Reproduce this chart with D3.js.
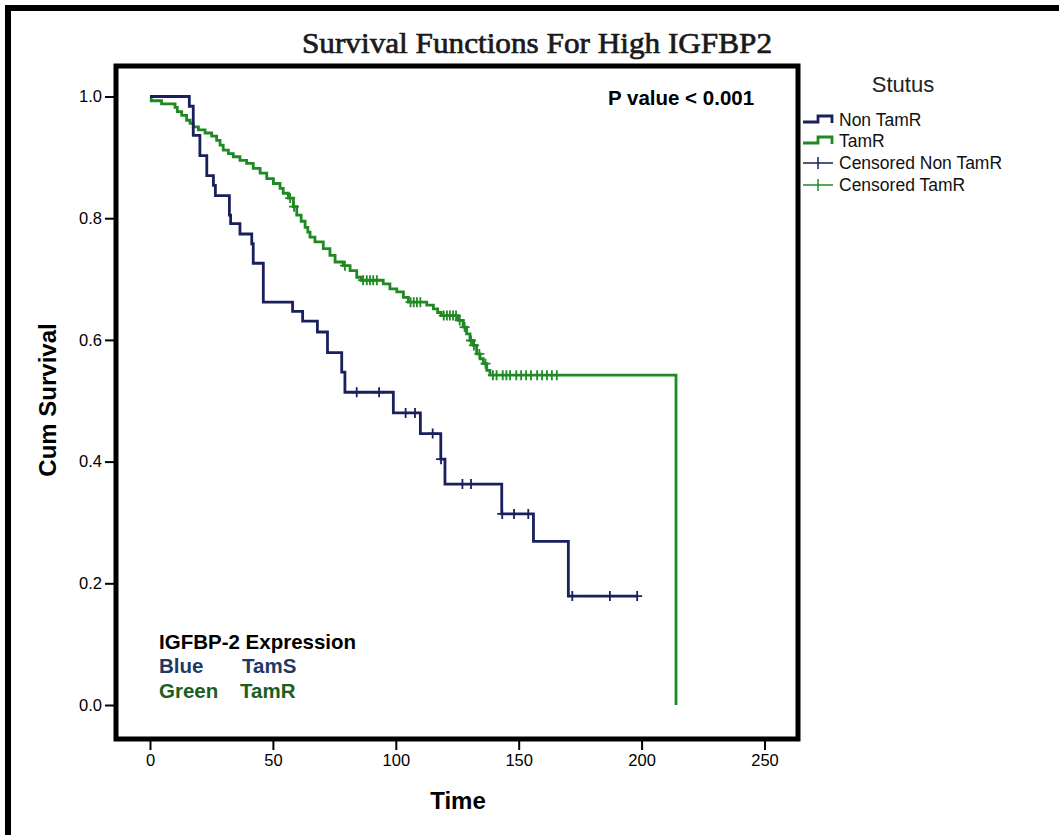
<!DOCTYPE html>
<html>
<head>
<meta charset="utf-8">
<script src="https://cdn.jsdelivr.net/npm/d3@7"></script>
<style>
  html, body { margin: 0; padding: 0; background: #fff; }
  svg { display: block; }
  text { font-family: "Liberation Sans", Arial, sans-serif; }
</style>
</head>
<body>
<svg id="chart" width="1059" height="835"></svg>
<script>
// Kaplan-Meier estimates: event times (months) and survival after each event
const blueTimes = [0, 16.0, 17.6, 20.3, 23.1, 25.8, 26.6, 32.3, 32.8, 36.6, 41.4, 42.0, 46.1, 58.0, 62.1, 68.1, 72.2, 78.0, 79.3, 99.0, 110.0, 118.3, 120.0, 143.1, 156.0, 170.2];
const blueSurv  = [1.0, 0.984, 0.936, 0.903, 0.870, 0.854, 0.837, 0.805, 0.791, 0.774, 0.758, 0.726, 0.662, 0.647, 0.631, 0.613, 0.579, 0.547, 0.514, 0.480, 0.446, 0.404, 0.363, 0.314, 0.269, 0.179];
const blueCensor = [84.1, 93.2, 104.0, 107.8, 115.0, 118.4, 127.1, 130.6, 143.3, 148.1, 153.9, 171.8, 187.1, 198.2];

const greenTimes = [0, 0.5, 4.7, 10.2, 11.1, 12.9, 14.9, 16.3, 17.6, 19.7, 22.4, 25.1, 27.1, 28.5, 29.8, 31.9, 33.9, 36.6, 39.3, 42.0, 44.8, 47.5, 50.2, 52.9, 54.2, 56.3, 58.3, 59.7, 61.5, 63.1, 64.2, 65.1, 67.1, 70.5, 73.2, 75.3, 78.6, 81.4, 84.1, 86.0, 94.9, 97.6, 100.4, 103.1, 105.1, 112.6, 115.3, 117.0, 118.5, 125.4, 127.4, 128.8, 130.2, 131.5, 132.9, 134.3, 135.6, 137.0, 138.3, 214.0];
const greenSurv  = [1.0, 0.993, 0.988, 0.982, 0.975, 0.969, 0.961, 0.956, 0.950, 0.945, 0.940, 0.935, 0.928, 0.920, 0.912, 0.906, 0.901, 0.895, 0.890, 0.882, 0.874, 0.865, 0.857, 0.849, 0.841, 0.833, 0.819, 0.805, 0.795, 0.785, 0.777, 0.769, 0.761, 0.750, 0.739, 0.728, 0.722, 0.714, 0.703, 0.698, 0.692, 0.684, 0.679, 0.670, 0.662, 0.657, 0.651, 0.645, 0.640, 0.632, 0.621, 0.610, 0.599, 0.591, 0.577, 0.569, 0.561, 0.550, 0.542, 0.0];
const greenCensor = [57.0, 58.6, 79.3, 86.7, 88.2, 89.5, 90.8, 92.3, 106.0, 107.3, 108.6, 110.0, 119.5, 120.8, 122.0, 123.3, 124.5, 126.0, 128.0, 130.6, 131.8, 134.0, 136.5, 139.5, 141.0, 143.5, 145.0, 146.5, 149.0, 151.0, 153.0, 155.0, 157.5, 159.5, 161.5, 163.5, 165.5];

const xTicks = [0, 50, 100, 150, 200, 250];
const yTicks = [0.0, 0.2, 0.4, 0.6, 0.8, 1.0];
const legendLabels = ["Non TamR", "TamR", "Censored Non TamR", "Censored TamR"];

const blueColor = "#18205e";
const greenColor = "#1f8a24";

const svg = d3.select("#chart");
svg.append("rect").attr("width", 1059).attr("height", 835).attr("fill", "#fff");

// outer border of the figure
svg.append("path")
  .attr("d", "M8,840 V8 H1070")
  .attr("fill", "none").attr("stroke", "#000").attr("stroke-width", 6);

const x = d3.scaleLinear().domain([0, 250]).range([150, 764.5]);
const y = d3.scaleLinear().domain([0, 1]).range([705, 96.5]);

// title
svg.append("text")
  .attr("x", 537).attr("y", 53)
  .attr("text-anchor", "middle")
  .attr("textLength", 470).attr("lengthAdjust", "spacingAndGlyphs")
  .style("font-family", "'Liberation Serif', 'DejaVu Serif', serif")
  .style("font-size", "30px")
  .attr("fill", "#1a1a1a").attr("stroke", "#1a1a1a").attr("stroke-width", 0.7)
  .text("Survival Functions For High IGFBP2");

// plot frame
svg.append("rect")
  .attr("x", 116).attr("y", 66)
  .attr("width", 682).attr("height", 673)
  .attr("fill", "none").attr("stroke", "#000").attr("stroke-width", 5);

// axes
const xAxis = d3.axisBottom(x).tickValues(xTicks).tickSize(9).tickPadding(4).tickFormat(d3.format("d"));
const gx = svg.append("g").attr("transform", "translate(0,741)").call(xAxis);
gx.select(".domain").remove();
gx.selectAll("line").attr("stroke", "#000").attr("stroke-width", 2);
gx.selectAll("text").style("font-size", "16.5px").attr("fill", "#000");

const yAxis = d3.axisLeft(y).tickValues(yTicks).tickSize(11).tickPadding(3).tickFormat(d3.format(".1f"));
const gy = svg.append("g").attr("transform", "translate(116,0)").call(yAxis);
gy.select(".domain").remove();
gy.selectAll("line").attr("stroke", "#000").attr("stroke-width", 2);
gy.selectAll("text").style("font-size", "16.5px").attr("fill", "#000");

// axis titles
svg.append("text")
  .attr("transform", "translate(56,400) rotate(-90)")
  .attr("text-anchor", "middle")
  .style("font-size", "24px").style("font-weight", "bold")
  .text("Cum Survival");
svg.append("text")
  .attr("x", 458).attr("y", 809)
  .attr("text-anchor", "middle")
  .style("font-size", "24px").style("font-weight", "bold")
  .text("Time");

// survival curves
function series(times, surv) { return times.map((t, i) => [t, surv[i]]); }
function survAt(times, surv, t) {
  const i = d3.bisectRight(times, t) - 1;
  return surv[Math.max(0, i)];
}
const stepLine = d3.line().x(d => x(d[0])).y(d => y(d[1])).curve(d3.curveStepAfter);

const bluePts = series(blueTimes, blueSurv);
bluePts.push([blueCensor[blueCensor.length - 1], blueSurv[blueSurv.length - 1]]);
const greenPts = series(greenTimes, greenSurv);

svg.append("path").attr("d", stepLine(greenPts))
  .attr("fill", "none").attr("stroke", greenColor).attr("stroke-width", 2.8);
svg.append("path").attr("d", stepLine(bluePts))
  .attr("fill", "none").attr("stroke", blueColor).attr("stroke-width", 2.8);

function censorMarks(times, surv, cens, color) {
  svg.append("g").selectAll("path").data(cens).join("path")
    .attr("d", t => {
      const cx = x(t), cy = y(survAt(times, surv, t));
      return `M${cx - 5},${cy} H${cx + 5} M${cx},${cy - 5} V${cy + 5}`;
    })
    .attr("fill", "none").attr("stroke", color).attr("stroke-width", 1.8);
}
censorMarks(greenTimes, greenSurv, greenCensor, greenColor);
censorMarks(blueTimes, blueSurv, blueCensor, blueColor);

// p-value
svg.append("text")
  .attr("x", 608).attr("y", 105)
  .style("font-size", "20.5px").style("font-weight", "bold")
  .text("P value < 0.001");

// group annotation
const ann = svg.append("g").style("font-size", "20.5px").style("font-weight", "bold");
ann.append("text").attr("x", 159).attr("y", 649).attr("fill", "#000").text("IGFBP-2 Expression");
ann.append("text").attr("x", 159).attr("y", 673).attr("fill", "#1f3864").text("Blue");
ann.append("text").attr("x", 242).attr("y", 673).attr("fill", "#1f3864").text("TamS");
ann.append("text").attr("x", 159).attr("y", 698).attr("fill", "#1b5e1f").text("Green");
ann.append("text").attr("x", 240).attr("y", 698).attr("fill", "#1b5e1f").text("TamR");

// legend
svg.append("text").attr("x", 903).attr("y", 92)
  .attr("text-anchor", "middle").style("font-size", "22px").attr("fill", "#222")
  .text("Stutus");

const lg = svg.append("g");
const rowY = [120, 141, 163, 185];
const legColors = [blueColor, greenColor, blueColor, greenColor];
legendLabels.forEach((lab, i) => {
  const cy = rowY[i];
  if (i < 2) {
    lg.append("path")
      .attr("d", `M803,${cy + 2} H818 V${cy - 4} H832 V${cy + 3}`)
      .attr("fill", "none").attr("stroke", legColors[i]).attr("stroke-width", 2.8);
  } else {
    lg.append("path")
      .attr("d", `M803,${cy} H833 M818,${cy - 6} V${cy + 6}`)
      .attr("fill", "none").attr("stroke", legColors[i]).attr("stroke-width", 1.5);
  }
  lg.append("text").attr("x", 839).attr("y", cy + 6)
    .style("font-size", "17.5px").attr("fill", "#111").text(lab);
});
</script>
</body>
</html>
